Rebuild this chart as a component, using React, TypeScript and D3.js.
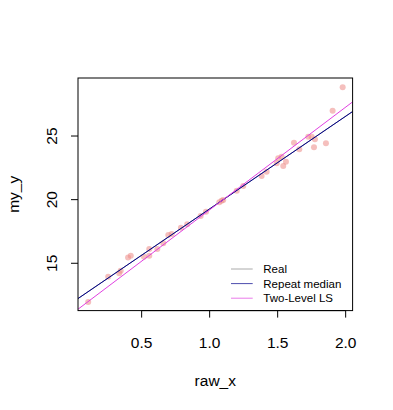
import React from "react";
import * as d3 from "d3";

const rawX = [0.107, 0.254, 0.335, 0.346, 0.40, 0.42, 0.517, 0.556, 0.556, 0.615, 0.659, 0.696, 0.721, 0.789, 0.835, 0.934, 0.973, 1.071, 1.088, 1.100, 1.199, 1.247, 1.382, 1.419, 1.493, 1.504, 1.529, 1.541, 1.561, 1.620, 1.659, 1.725, 1.750, 1.774, 1.767, 1.855, 1.904, 1.978];
const myY = [11.95, 13.95, 14.21, 14.42, 15.45, 15.6, 15.52, 16.12, 15.6, 16.12, 16.57, 17.22, 17.30, 17.80, 18.06, 18.72, 19.05, 19.79, 19.92, 19.97, 20.70, 21.07, 21.86, 22.20, 22.86, 23.25, 23.37, 22.64, 22.98, 24.47, 23.96, 24.95, 24.95, 24.74, 24.11, 24.43, 26.99, 28.83];

const xTicks = [0.5, 1.0, 1.5, 2.0];
const yTicks = [15, 20, 25];

const lineNames = ["Real", "Repeat median", "Two-Level LS"];
const lineIntercepts = [12.0, 11.99, 11.13];
const lineSlopes = [7.28, 7.28, 8.07];
const lineColors = ["#888888", "#00008B", "#E040E0"];

const xDomain = [0.032, 2.051];
const yDomain = [11.28, 29.56];

export default function App() {
  const W = 393, H = 410;
  const left = 78, right = 352.6, top = 78, bottom = 310.6;
  const x = d3.scaleLinear().domain(xDomain).range([left, right]);
  const y = d3.scaleLinear().domain(yDomain).range([bottom, top]);
  const font = "'Liberation Sans', Arial, Helvetica, sans-serif";

  return (
    <svg width={W} height={H} style={{ position: "absolute", left: 0, top: 0, background: "#fff" }}>
      <defs>
        <clipPath id="plotclip">
          <rect x={left} y={top} width={right - left} height={bottom - top} />
        </clipPath>
      </defs>
      <rect x={0} y={0} width={W} height={H} fill="#fff" />
      <g clipPath="url(#plotclip)">
        {rawX.map((v, i) => (
          <circle key={i} cx={x(v)} cy={y(myY[i])} r={3} fill="#EC8A86" fillOpacity={0.55} />
        ))}
        {lineNames.map((n, i) => (
          <line
            key={n}
            x1={x(xDomain[0])}
            y1={y(lineIntercepts[i] + lineSlopes[i] * xDomain[0])}
            x2={x(xDomain[1])}
            y2={y(lineIntercepts[i] + lineSlopes[i] * xDomain[1])}
            stroke={lineColors[i]}
            strokeWidth={1}
          />
        ))}
      </g>
      <rect x={left} y={top} width={right - left} height={bottom - top} fill="none" stroke="#000" strokeWidth={1} />
      <line x1={x(xTicks[0])} x2={x(xTicks[xTicks.length - 1])} y1={bottom} y2={bottom} stroke="#000" />
      {xTicks.map((t) => (
        <g key={t}>
          <line x1={x(t)} x2={x(t)} y1={bottom} y2={bottom + 7} stroke="#000" />
          <text x={x(t)} y={347.5} textAnchor="middle" fontFamily={font} fontSize={15.5} fill="#000">
            {t.toFixed(1)}
          </text>
        </g>
      ))}
      {yTicks.map((t) => (
        <g key={t}>
          <line x1={left - 7} x2={left} y1={y(t)} y2={y(t)} stroke="#000" />
          <text
            transform={`translate(57,${y(t)}) rotate(-90)`}
            textAnchor="middle"
            fontFamily={font}
            fontSize={15.5}
            fill="#000"
          >
            {t}
          </text>
        </g>
      ))}
      <text x={(left + right) / 2} y={386} textAnchor="middle" fontFamily={font} fontSize={15.5} fill="#000">
        raw_x
      </text>
      <text
        transform={`translate(19,${(top + bottom) / 2}) rotate(-90)`}
        textAnchor="middle"
        fontFamily={font}
        fontSize={15.5}
        fill="#000"
      >
        my_y
      </text>
      {lineNames.map((n, i) => {
        const ly = 269 + i * 14.6;
        return (
          <g key={n}>
            <line x1={231} x2={252.7} y1={ly} y2={ly} stroke={lineColors[i]} strokeOpacity={0.7} strokeWidth={1} />
            <text x={263.3} y={ly + 4} fontFamily={font} fontSize={11.5} fill="#000">
              {n}
            </text>
          </g>
        );
      })}
    </svg>
  );
}
